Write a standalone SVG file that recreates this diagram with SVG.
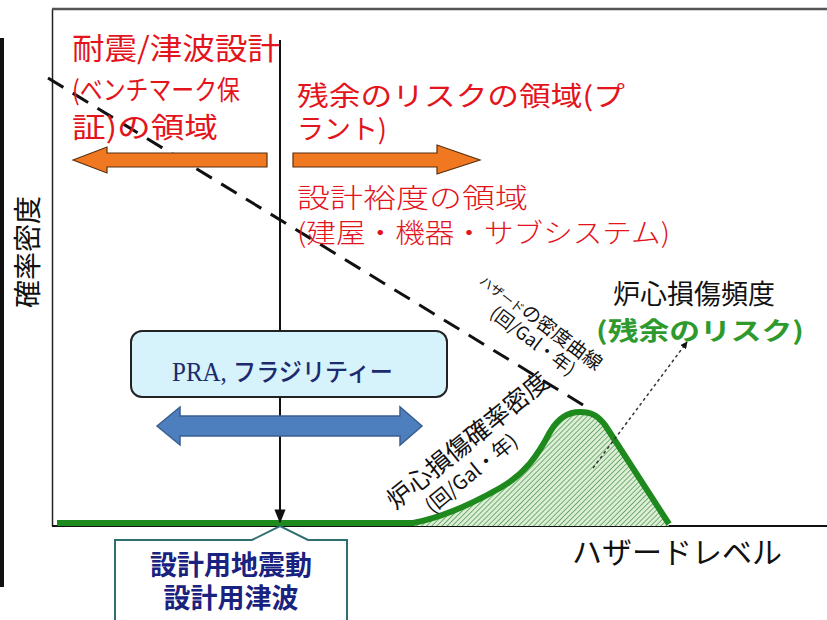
<svg xmlns="http://www.w3.org/2000/svg" width="827" height="620" viewBox="0 0 827 620">
<style>
.red{fill:#e3141c;font-family:"Noto Sans CJK JP","Noto Sans",sans-serif;}
.blk{fill:#111;font-family:"Noto Sans CJK JP","Noto Sans",sans-serif;}
</style>
<defs>
<pattern id="hatch" patternUnits="userSpaceOnUse" width="3.6" height="3.6" patternTransform="rotate(45)">
<rect width="3.6" height="3.6" fill="#dcefd6"/>
<line x1="0" y1="0" x2="0" y2="3.6" stroke="#3a8a3a" stroke-width="1.3"/>
</pattern>
<marker id="tri" viewBox="0 0 10 10" refX="9" refY="5" markerWidth="7" markerHeight="7" orient="auto" markerUnits="userSpaceOnUse">
<path d="M0,0 L10,5 L0,10 Z" fill="#111"/>
</marker>
<marker id="tri2" viewBox="0 0 10 10" refX="9" refY="5" markerWidth="14" markerHeight="14" orient="auto" markerUnits="userSpaceOnUse">
<path d="M0,1 L10,5 L0,9 Z" fill="#111"/>
</marker>
</defs>
<rect width="827" height="620" fill="#fff"/>

<g id="frame">
<line x1="2" y1="38" x2="2" y2="587" stroke="#111" stroke-width="4"/>
<line x1="52.5" y1="9" x2="52.5" y2="526" stroke="#222" stroke-width="1.5"/>
<line x1="52" y1="9" x2="827" y2="9" stroke="#555" stroke-width="2.5"/>
<line x1="52" y1="526" x2="827" y2="526" stroke="#111" stroke-width="1.8"/>
</g>

<g id="y-label">
<text class="blk" transform="translate(38,252) rotate(-90)" text-anchor="middle" font-size="28">確率密度</text>
</g>

<g id="core-damage-area">
<path d="M413,524 C440,518 470,505 500,488 C525,474 538,455 550,432 C558,418 568,412 580,412 C592,412 598,416 605,425 L669,526 L413,526 Z" fill="url(#hatch)"/>
<path d="M57,523 L413,523 C440,518 470,505 500,488 C525,474 538,455 550,432 C558,418 568,412 580,412 C592,412 598,416 605,425 L669,524" fill="none" stroke="#1e8a1e" stroke-width="6" stroke-linejoin="round"/>
</g>

<g id="connectors">
<line x1="48" y1="78" x2="588" y2="408" stroke="#111" stroke-width="3" stroke-dasharray="18,11"/>
<line x1="280" y1="40" x2="280" y2="522" stroke="#111" stroke-width="2" marker-end="url(#tri2)"/>
<line x1="593" y1="468" x2="687" y2="342" stroke="#333" stroke-width="1.5" stroke-dasharray="3,3" marker-end="url(#tri)"/>
</g>

<g id="design-region">
<text class="red" x="72" y="59" font-size="30" textLength="208" lengthAdjust="spacingAndGlyphs">耐震/津波設計</text>
<text class="red" x="72" y="100" font-size="27" textLength="168" lengthAdjust="spacingAndGlyphs">(ベンチマーク保</text>
<text class="red" x="72" y="138" font-size="28" textLength="146" lengthAdjust="spacingAndGlyphs">証)の領域</text>
<path d="M73,160 L107,147 L107,153 L267,153 L267,167 L107,167 L107,173 Z" fill="#f07820" stroke="#5a3010" stroke-width="1.2"/>
</g>

<g id="residual-region">
<text class="red" x="297" y="106" font-size="27" textLength="328" lengthAdjust="spacingAndGlyphs">残余のリスクの領域(プ</text>
<text class="red" x="297" y="139" font-size="27" textLength="90" lengthAdjust="spacingAndGlyphs">ラント)</text>
<path d="M293,153 L437,153 L437,145 L480,160 L437,174 L437,167 L293,167 Z" fill="#f07820" stroke="#5a3010" stroke-width="1.2"/>
</g>

<g id="margin-region">
<text class="red" x="297" y="208" font-size="27" font-weight="300" textLength="231" lengthAdjust="spacingAndGlyphs">設計裕度の領域</text>
<text class="red" x="297" y="243" font-size="27" font-weight="300" textLength="373" lengthAdjust="spacingAndGlyphs">(建屋・機器・サブシステム)</text>
</g>

<g id="pra-box">
<rect x="131" y="331" width="316" height="66" rx="11" fill="#d6f3fb" stroke="#222" stroke-width="2"/>
<text x="172" y="381" font-size="27" fill="#1d2a6e" font-family="Liberation Serif, serif" textLength="221" lengthAdjust="spacingAndGlyphs">PRA, <tspan font-family="Noto Sans CJK JP, sans-serif" font-size="25" font-weight="500">フラジリティー</tspan></text>
</g>

<g id="pra-arrow">
<path d="M157,426 L180,407 L180,416 L400,416 L400,407 L422,426 L400,445 L400,436 L180,436 L180,445 Z" fill="#4d7fbe" stroke="#3a5f8f" stroke-width="1.5"/>
</g>

<g id="hazard-label">
<g transform="translate(479,282) rotate(37)">
<text class="blk" x="0" y="1" font-size="19"><tspan font-size="13">ハザード</tspan>の密度曲線</text>
<text class="blk" x="28" y="21" font-size="18">(回/Gal・年)</text>
</g>
</g>

<g id="core-density-label">
<g transform="translate(400,495) rotate(-39)">
<text class="blk" x="-13" y="9" font-size="25">炉心損傷確率密度</text>
<text class="blk" x="13" y="35" font-size="20">(回/Gal・年)</text>
</g>
</g>

<g id="cdf-label">
<text class="blk" x="613" y="304" font-size="27">炉心損傷頻度</text>
<text x="596" y="340" font-size="25" font-weight="bold" fill="#2e9a2e" font-family="Noto Sans CJK JP, sans-serif" textLength="208" lengthAdjust="spacingAndGlyphs">(残余のリスク)</text>
</g>

<g id="design-callout">
<path d="M115,540 L252,540 L280,526 L308,540 L347,540 L347,622 L115,622 Z" fill="#fff" stroke="#2f6f70" stroke-width="2"/>
<text x="231" y="575" text-anchor="middle" font-size="27" font-weight="bold" fill="#1a2280" font-family="Noto Sans CJK JP, sans-serif">設計用地震動</text>
<text x="231" y="608" text-anchor="middle" font-size="27" font-weight="bold" fill="#1a2280" font-family="Noto Sans CJK JP, sans-serif">設計用津波</text>
</g>

<g id="x-label">
<text class="blk" x="572" y="563" font-size="30">ハザードレベル</text>
</g>
</svg>
